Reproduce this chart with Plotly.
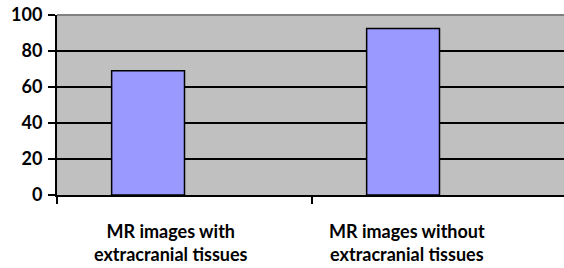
import plotly.graph_objects as go

categories = ["MR images with<br>extracranial tissues", "MR images without<br>extracranial tissues"]
series_values = [69, 92.5]
empty_series = [None, None]
y_ticks = [0, 20, 40, 60, 80, 100]

FONT = "Lato"
x_idx = list(range(len(categories)))
label_shift = [-0.053, -0.127]

fig = go.Figure()
fig.add_trace(go.Bar(x=x_idx, y=series_values, marker=dict(color="#9999FF", line=dict(color="black", width=1.5)), showlegend=False))
fig.add_trace(go.Bar(x=x_idx, y=empty_series, marker=dict(color="#993366", line=dict(color="black", width=1.5)), showlegend=False))

for i, c in enumerate(categories):
    fig.add_annotation(x=i + label_shift[i], xref="x", y=-0.265, yref="paper",
                       text=c, showarrow=False, xanchor="center", yanchor="middle",
                       font=dict(family=FONT, size=18, color="black", weight="bold"))

fig.add_shape(type="line", xref="paper", yref="paper", x0=0, x1=1, y0=1, y1=1,
              line=dict(color="#808080", width=2), layer="above")

fig.update_layout(
    width=564, height=268,
    margin=dict(l=57, r=0, t=15, b=73),
    paper_bgcolor="white", plot_bgcolor="#C0C0C0",
    barmode="group", bargap=1.5 / 3.5, bargroupgap=0,
    font=dict(family=FONT, size=18, color="black"),
)
fig.update_xaxes(range=[-0.5, -0.5 + 507 / 255], tickvals=[-0.5, 0.5, 1.5], ticktext=["", "", ""],
                 ticks="outside", ticklen=7, tickwidth=2, tickcolor="black",
                 showline=True, linecolor="black", linewidth=2, showgrid=False, zeroline=False)
fig.update_yaxes(range=[0, 100], tickvals=y_ticks, ticks="outside", ticklen=7, tickwidth=2, tickcolor="black",
                 showline=True, linecolor="black", linewidth=2, showgrid=True, gridcolor="black", gridwidth=2,
                 zeroline=False, tickfont=dict(family=FONT, size=18, color="black", weight="bold"), ticklabelstandoff=2)

fig.write_html("out.html", config={"displayModeBar": False},
               post_script="document.body.style.margin='0';document.body.style.overflow='hidden';")
